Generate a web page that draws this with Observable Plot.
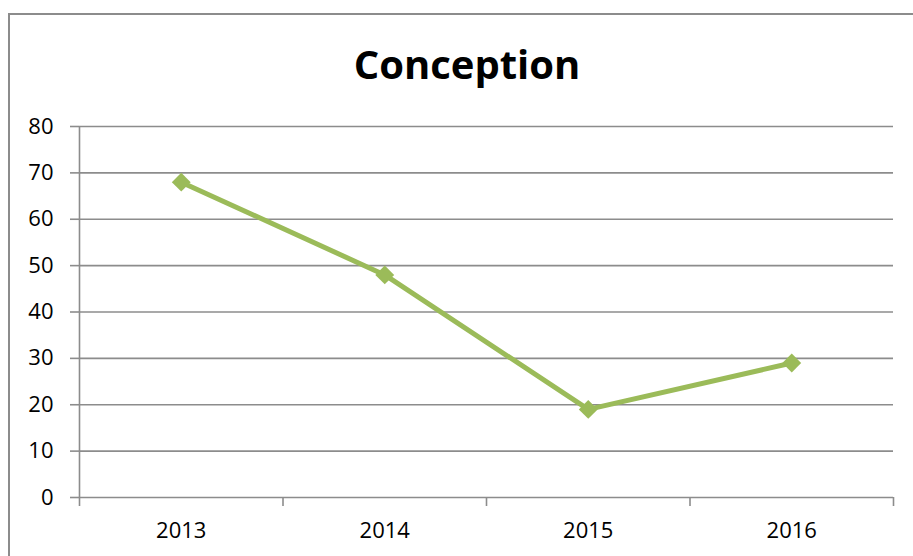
<!DOCTYPE html>
<html><head><meta charset="utf-8">
<script src="https://cdn.jsdelivr.net/npm/d3@7"></script>
<script src="https://cdn.jsdelivr.net/npm/@observablehq/plot@0.6"></script>
<style>
body{margin:0;background:#fff;overflow:hidden;}
#wrap{position:relative;width:913px;height:556px;}
#frame{position:absolute;left:8px;top:13px;width:1000px;height:1000px;border:2px solid #8c8c8c;box-sizing:border-box;}
#title{position:absolute;left:0;width:934px;top:40px;text-align:center;font:bold 40px "Open Sans",sans-serif;color:#000;line-height:1.2;}
#chart{position:absolute;left:0;top:0;}
</style></head><body>
<div id="wrap"><div id="frame"></div><div id="title">Conception</div><div id="chart"></div></div>
<script>
const years = [2013, 2014, 2015, 2016];
const values = [68, 48, 19, 29];
const yTicks = [0, 10, 20, 30, 40, 50, 60, 70, 80];
const bandEdges = [2012.5, 2013.5, 2014.5, 2015.5, 2016.5];
const data = years.map((y, i) => ({year: y, value: values[i]}));
const green = "#9BBB59";
const grid = "#8c8c8c";
const chart = Plot.plot({
  width: 913, height: 556,
  marginLeft: 79, marginRight: 20, marginTop: 126, marginBottom: 59,
  style: {background: "transparent", fontFamily: "'Open Sans', sans-serif", fontSize: "22px", color: "#000"},
  x: {type: "linear", domain: [2012.5, 2016.5]},
  y: {domain: [0, 80]},
  marks: [
    Plot.ruleY(yTicks, {stroke: grid, strokeWidth: 1.6}),
    Plot.axisY({ticks: yTicks, tickSize: 9, tickPadding: 17, stroke: grid, strokeWidth: 1.6, strokeOpacity: 1, label: null, fontSize: 22}),
    Plot.axisX({ticks: bandEdges, tickSize: 9, tickFormat: () => "", stroke: grid, strokeWidth: 1.6, strokeOpacity: 1, label: null}),
    Plot.axisX({ticks: years, tickSize: 0, tickPadding: 25, tickFormat: d => String(d), label: null, fontSize: 22}),
    Plot.ruleX([2012.5], {y1: 0, y2: 80, stroke: grid, strokeWidth: 1.6}),
    Plot.line(data, {x: "year", y: "value", stroke: green, strokeWidth: 5}),
    Plot.dot(data, {x: "year", y: "value", symbol: "diamond2", r: 8.5, fill: green, stroke: "none"})
  ]
});
document.getElementById("chart").appendChild(chart);
</script></body></html>
